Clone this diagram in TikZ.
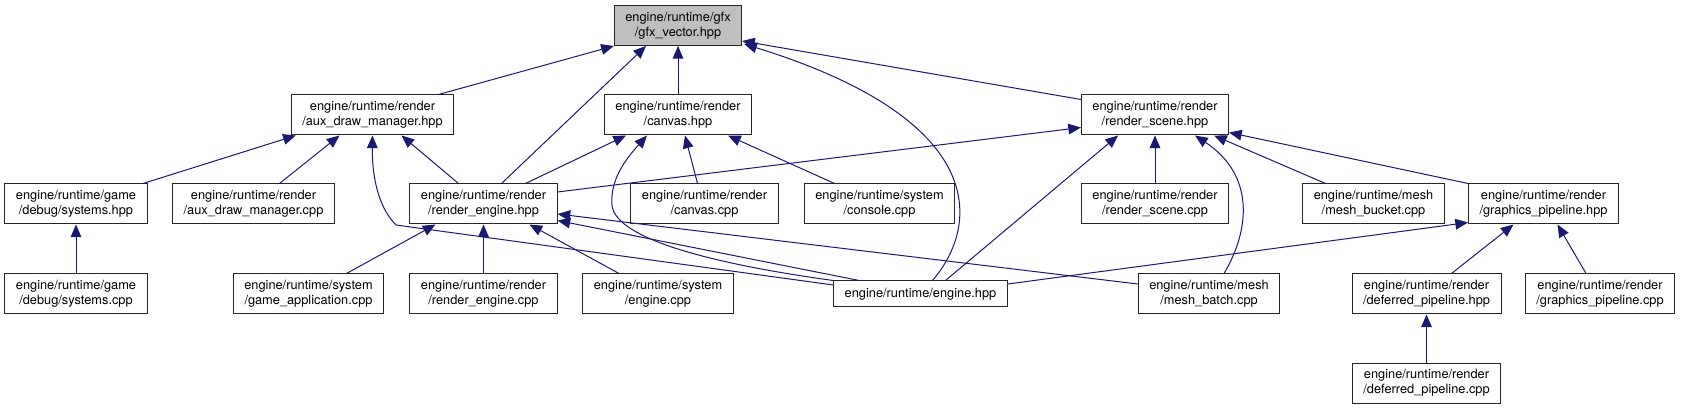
\documentclass[tikz,border=0pt]{standalone}
\usepackage{fontspec}
\setmainfont{TeX Gyre Heros}
\usetikzlibrary{arrows.meta,calc}
\definecolor{edgeblue}{RGB}{25,25,112}

\begin{document}
\begin{tikzpicture}[
    x=0.75pt, y=-0.75pt,
    file/.style={draw=black!85, line width=0.75pt, align=center, inner xsep=8.25pt, inner ysep=0pt, minimum height=30pt, font=\fontsize{9.6}{11.25}\selectfont},
    focus/.style={file, fill=black!25},
    dep/.style={draw=edgeblue, line width=0.75pt, -{Triangle[length=9.5pt, width=8pt]}}
]
\useasboundingbox (0,0) rectangle (1683,409);
\node[focus] (gfx) at (678,25.5) {engine/runtime/gfx\\/gfx\_vector.hpp};
\node[file] (aux) at (372.5,115) {engine/runtime/render\\/aux\_draw\_manager.hpp};
\node[file] (canvas) at (678,115) {engine/runtime/render\\/canvas.hpp};
\node[file] (scene) at (1155,115) {engine/runtime/render\\/render\_scene.hpp};
\node[file] (dbgh) at (76,204) {engine/runtime/game\\/debug/systems.hpp};
\node[file] (auxc) at (253.5,204) {engine/runtime/render\\/aux\_draw\_manager.cpp};
\node[file] (reng) at (483.5,204) {engine/runtime/render\\/render\_engine.hpp};
\node[file] (canvc) at (704.5,204) {engine/runtime/render\\/canvas.cpp};
\node[file] (cons) at (879.5,204) {engine/runtime/system\\/console.cpp};
\node[file] (scenec) at (1155,204) {engine/runtime/render\\/render\_scene.cpp};
\node[file] (bucket) at (1373.5,204) {engine/runtime/mesh\\/mesh\_bucket.cpp};
\node[file] (gp) at (1543.5,204) {engine/runtime/render\\/graphics\_pipeline.hpp};
\node[file] (dbgc) at (76,294) {engine/runtime/game\\/debug/systems.cpp};
\node[file] (gameapp) at (308.5,294) {engine/runtime/system\\/game\_application.cpp};
\node[file] (rengc) at (483.5,294) {engine/runtime/render\\/render\_engine.cpp};
\node[file] (enginec) at (658,294) {engine/runtime/system\\/engine.cpp};
\node[file, minimum height=19.5pt] (engineh) at (920.5,294) {engine/runtime/engine.hpp};
\node[file] (batch) at (1209,294) {engine/runtime/mesh\\/mesh\_batch.cpp};
\node[file] (dph) at (1426.5,294) {engine/runtime/render\\/deferred\_pipeline.hpp};
\node[file] (gpc) at (1600,294) {engine/runtime/render\\/graphics\_pipeline.cpp};
\node[file] (dpc) at (1426.5,383) {engine/runtime/render\\/deferred\_pipeline.cpp};

\draw[dep] ($(aux.north)+(66,0)$) -- (gfx.south west);
\draw[dep] ($(reng.north)+(18,0)$) -- ($(gfx.south)+(-32,0)$);
\draw[dep] (canvas) -- (gfx);
\draw[dep] ($(engineh.north)+(12,0)$) .. controls (980,225) and (990,120) .. ($(gfx.south east)+(2,-2)$);
\draw[dep] ($(scene.north west)+(0,5)$) -- ($(gfx.south east)+(0,-5)$);
\draw[dep] ($(dbgh.north)+(67,0)$) -- ($(aux.south west)+(5,0)$);
\draw[dep] ($(auxc.north)+(26,0)$) -- ($(aux.south)+(-33,0)$);
\draw[dep] ($(engineh.west)+(0,-9)$) -- (396,225) .. controls (376,205) and (372,170) .. (aux.south);
\draw[dep] ($(reng.north)+(-25,0)$) -- ($(aux.south)+(29,0)$);
\draw[dep] ($(reng.north)+(42,0)$) -- ($(canvas.south)+(-52,0)$);
\draw[dep] (engineh.north west) .. controls (720,265) and (615,240) .. (612,205) .. controls (610,180) and (625,160) .. ($(canvas.south)+(-31,0)$);
\draw[dep] ($(canvc.north)+(-7,0)$) -- ($(canvas.south)+(7,0)$);
\draw[dep] ($(cons.north)+(-45,0)$) -- ($(canvas.south)+(50,0)$);
\draw[dep] ($(reng.east)+(0,-12)$) -- ($(scene.south west)+(0,-8)$);
\draw[dep] ($(engineh.north)+(25,0)$) -- ($(scene.south)+(-37,0)$);
\draw[dep] (scenec) -- (scene);
\draw[dep] ($(batch.north)+(15,0)$) .. controls (1250,230) and (1255,175) .. ($(scene.south)+(40,0)$);
\draw[dep] ($(bucket.north)+(-48,0)$) -- ($(scene.south east)+(-15,0)$);
\draw[dep] (gp.north west) -- ($(scene.south east)+(0,-3)$);
\draw[dep] ($(gameapp.north)+(38,0)$) -- ($(reng.south)+(-48,0)$);
\draw[dep] (rengc) -- (reng);
\draw[dep] ($(enginec.north)+(-39,0)$) -- ($(reng.south east)+(-28,0)$);
\draw[dep] ($(engineh.north west)+(26,0)$) -- ($(reng.south east)+(0,-4)$);
\draw[dep] ($(batch.west)+(0,-10)$) -- ($(reng.east)+(0,10)$);
\draw[dep] ($(engineh.east)+(0,-10)$) -- ($(gp.south west)+(0,-2)$);
\draw[dep] ($(dph.north)+(25,0)$) -- ($(gp.south)+(-30,0)$);
\draw[dep] ($(gpc.north)+(-14,0)$) -- ($(gp.south)+(14,0)$);
\draw[dep] (dpc) -- (dph);
\draw[dep] (dbgc) -- (dbgh);
\end{tikzpicture}
\end{document}
